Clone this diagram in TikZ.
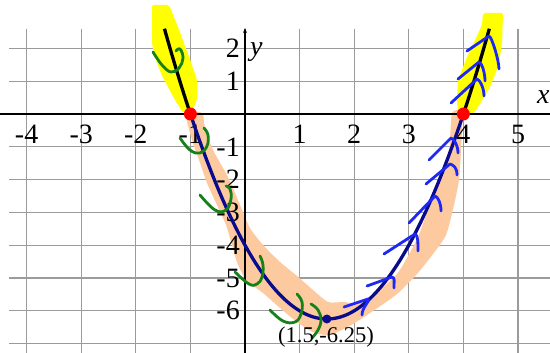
\documentclass[tikz,border=0pt]{standalone}
\usepackage{fontspec}
\setmainfont{Liberation Serif}
\usetikzlibrary{arrows.meta}
\definecolor{navy}{RGB}{10,10,140}
\definecolor{chevblue}{RGB}{30,40,245}
\definecolor{markgreen}{RGB}{20,130,25}
\definecolor{peach}{RGB}{253,202,160}
\definecolor{hiyellow}{RGB}{255,255,0}
\definecolor{gridgray}{RGB}{155,155,155}
\tikzset{
  gridline/.style={draw=gridgray, line width=1.2pt},
  axisline/.style={draw=black, line width=1.1pt},
  ticklab/.style={font=\fontsize{28}{28}\selectfont, inner sep=0pt},
  chev/.style={draw=chevblue, line width=2.8pt, line cap=round, line join=round},
  greenmark/.style={draw=markgreen, line width=2.8pt, line cap=round, line join=round},
  reddot/.style={circle, fill=red, inner sep=0pt, minimum size=13pt},
  vdot/.style={circle, fill=navy, inner sep=0pt, minimum size=9pt},
}
\newcommand\chevmark[3]{\draw[chev] #1 -- #2 .. controls +(3,1) and +(0,-8) .. #3;}
\begin{document}
\begin{tikzpicture}[x=1pt,y=-1pt]
\useasboundingbox (0,0) rectangle (550,353);
\fill[white] (0,0) rectangle (550,353);
% grid in data coordinates
\begin{scope}[shift={(245,114)}, x=54.6pt, y=32.8pt]
  \foreach \i in {-4,...,5} \draw[gridline] (\i,2.6) -- (\i,-7.3);
  \foreach \j in {-7,...,2} \draw[gridline] (-4.32,\j) -- (5.6,\j);
\end{scope}
% highlights (pixel coordinates)
\fill[hiyellow, rounded corners=2pt] (152,5) -- (169,5) -- (178,27) -- (192,65) -- (197,80) -- (197,100) -- (191,113) -- (183,113) -- (175,100) -- (162,76) -- (154,55) -- (152,43) -- cycle;
\fill[hiyellow, rounded corners=2pt] (483,13) -- (503,13) -- (502,45) -- (498,67) -- (490,87) -- (478,107) -- (473,114) -- (458,114) -- (457,100) -- (458,80) -- (467,57) -- (476,38) -- (482,25) -- cycle;
\fill[peach] plot[smooth cycle, tension=0.4] coordinates {(186,113) (192,140) (199,160) (207,183) (217,205) (226,225) (232,245) (237,262) (246,280) (263,293) (280,308) (297,322) (313,332) (330,335) (353,324) (373,311) (397,294) (417,274) (433,254) (446,235) (454,205) (459,180) (461,150) (462,113) (452,113) (449,150) (439,180) (428,210) (418,237) (408,256) (397,274) (377,292) (358,303) (343,302) (328,302) (313,290) (297,276) (280,262) (263,245) (250,228) (240,205) (228,177) (213,150) (205,128) (202,113)};
\begin{scope}[shift={(245,114)}, x=54.6pt, y=32.8pt]
  % axes
  \draw[axisline] (-4.49,0) -- (5.59,0);
  \draw[axisline, -{Stealth[length=5pt,width=4pt]}] (0,-7.3) -- (0,2.62);
  % tick labels
  \foreach \i in {-4,-3,-2,-1,1,2,3,4,5}
    \node[ticklab] (xl\i) at (\i,0) [yshift=-20pt] {\i};
  \foreach \j in {2,1,-1,-2,-3,-4,-5,-6}
    \node[ticklab, anchor=east] (yl\j) at (0,\j) [xshift=-5pt] {\j};
  % curve
  \draw[black, line width=3.3pt] plot[domain=-1.475:-1, samples=20] (\x,{\x*\x-3*\x-4});
  \draw[black, line width=3.3pt] plot[domain=4:4.475, samples=20] (\x,{\x*\x-3*\x-4});
  \draw[navy, line width=3.3pt] plot[domain=-1:4, samples=120] (\x,{\x*\x-3*\x-4});
\end{scope}
% axis names
\node[ticklab, anchor=base west] (ylab) at (250,56) {\textit{y}};
\node[ticklab, anchor=base west] (xlab) at (537,104) {\textit{x}};
% green marks
\draw[greenmark] plot[smooth, tension=0.7] coordinates {(153,52) (162,65) (171,72) (179,68) (183,58) (180,49) (176,51)};
\draw[greenmark] plot[smooth, tension=0.7] coordinates {(180,138) (190,150) (200,153) (207,146) (208,135) (204,128)};
\draw[greenmark] plot[smooth, tension=0.7] coordinates {(200,195) (215,210) (226,210) (231,199) (230,189) (226,186)};
\draw[greenmark] plot[smooth, tension=0.7] coordinates {(235,272) (249,284) (257,284) (262,277) (263,265) (260,256)};
\draw[greenmark] plot[smooth, tension=0.7] coordinates {(270,310) (283,321) (295,322) (301,314) (302,302) (297,294)};
\draw[greenmark] plot[smooth, tension=0.7] coordinates {(311,304) (318,310) (321,320) (318,330) (312,338)};
% blue chevrons
\chevmark{(344,307)}{(368,299)}{(362,315)}
\chevmark{(367,286)}{(392,277)}{(394,288)}
\chevmark{(384,254)}{(415,234)}{(418,251)}
\chevmark{(409,223)}{(435,196)}{(441,211)}
\chevmark{(426,184)}{(450,164)}{(457,175)}
\chevmark{(429,160)}{(451,138)}{(458,153)}
\chevmark{(451,103)}{(477,79)}{(484,96)}
\chevmark{(458,79)}{(479,62)}{(485,81)}
\chevmark{(467,51)}{(489,36)}{(499,69)}
% dots
\begin{scope}[shift={(245,114)}, x=54.6pt, y=32.8pt]
  \node[reddot] (root1) at (-1,0) {};
  \node[reddot] (root2) at (4,0) {};
  \node[vdot] (vertex) at (1.5,-6.25) {};
\end{scope}
\node[inner sep=0pt, font=\fontsize{22.5}{22.5}\selectfont] (vlab) at (326,337) {(1.5,-6.25)};
\end{tikzpicture}
\end{document}
